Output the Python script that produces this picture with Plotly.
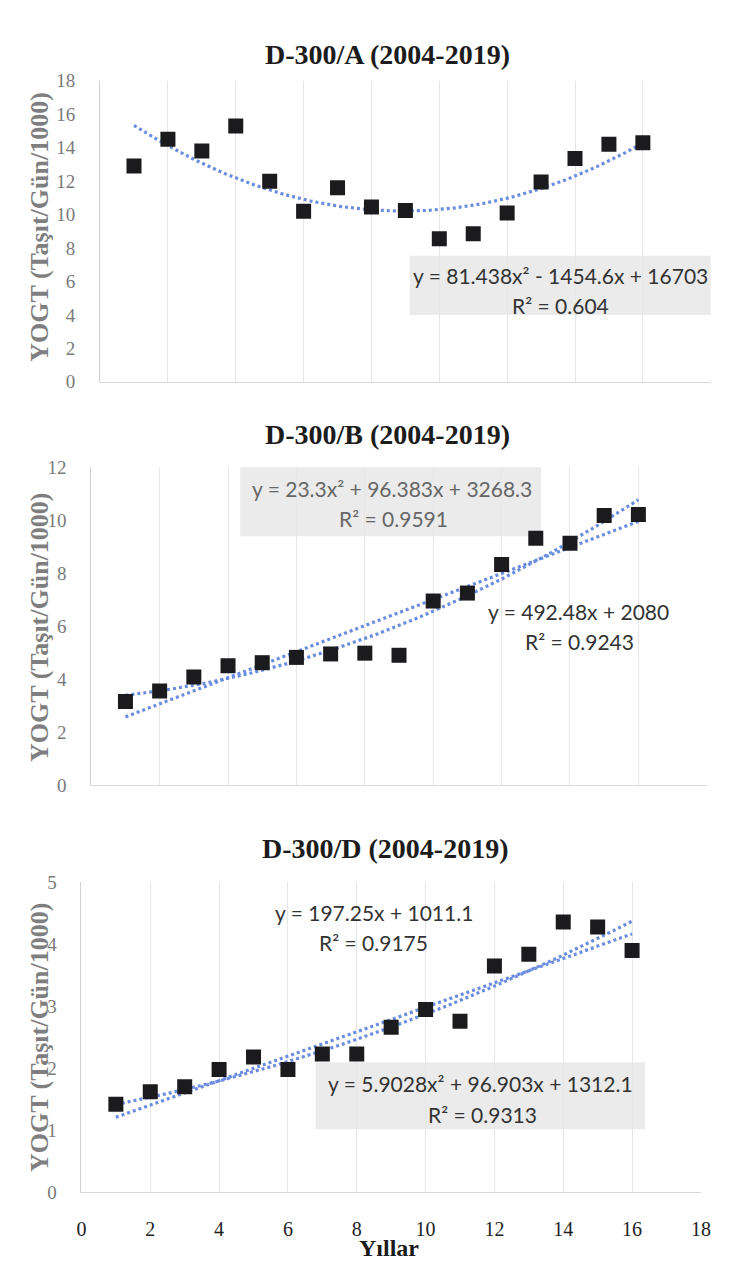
import numpy as np
import plotly.graph_objects as go

# ---- data -------------------------------------------------------------
years = list(range(1, 17))

yogt_a = [12.9, 14.5, 13.8, 15.3, 12.0, 10.2, 11.6, 10.45, 10.25, 8.55, 8.85, 10.1, 11.95, 13.35, 14.2, 14.3]
yogt_b = [3.15, 3.55, 4.08, 4.5, 4.62, 4.82, 4.95, 4.98, 4.9, 6.95, 7.25, 8.33, 9.32, 9.13, 10.18, 10.22]
yogt_d = [1.42, 1.62, 1.7, 1.98, 2.18, 1.98, 2.23, 2.23, 2.66, 2.95, 2.76, 3.65, 3.84, 4.36, 4.28, 3.9]

# trendline coefficients (vehicles/day), highest power first
trend_a_quad = [81.438, -1454.6, 16703]
trend_b_quad = [23.3, 96.383, 3268.3]
trend_b_lin = [492.48, 2080]
trend_d_lin = [197.25, 1011.1]
trend_d_quad = [5.9028, 96.903, 1312.1]

titles = ["D-300/A (2004-2019)", "D-300/B (2004-2019)", "D-300/D (2004-2019)"]
y_title = "YOGT (Taşıt/Gün/1000)"
x_title = "Yıllar"

# ---- page geometry (pixels) --------------------------------------------
W, H = 755, 1272


def px(x):
    return x / W


def py(y):
    return 1 - y / H


# plot areas: (left, right, bottom, top) in pixels
areas = {
    "a": (97, 720, 378, 72),
    "b": (88, 716, 788, 465),
    "d": (78, 710, 1202, 887),
}

MARKER = "#1b1b1d"
TREND = "#6b8de0"
GRID = "#e6e6e6"
SERIF = "Liberation Serif, Times New Roman, serif"
SANS = "Liberation Sans Narrow, Lato, sans-serif"

fig = go.Figure()

xs = np.linspace(1, 16, 200)


def trend(coefs):
    return np.polyval(coefs, xs) / 1000.0


def add_panel(idx, yvals, trends):
    xa = "x" if idx == 1 else f"x{idx}"
    ya = "y" if idx == 1 else f"y{idx}"
    for coefs in trends:
        fig.add_trace(go.Scatter(
            x=xs, y=trend(coefs), mode="lines", xaxis=xa, yaxis=ya,
            line=dict(color=TREND, width=3.2, dash="3px,3px"),
            hoverinfo="skip", showlegend=False))
    fig.add_trace(go.Scatter(
        x=years, y=yvals, mode="markers", xaxis=xa, yaxis=ya,
        marker=dict(symbol="square", size=15, color=MARKER, line=dict(width=0)),
        showlegend=False))


add_panel(1, yogt_a, [trend_a_quad])
add_panel(2, yogt_b, [trend_b_quad, trend_b_lin])
add_panel(3, yogt_d, [trend_d_lin, trend_d_quad])

axis_common = dict(range=[0, 18], dtick=2, tick0=0, showgrid=True, gridcolor=GRID,
                   gridwidth=1, zeroline=False, showline=True, linecolor="#d9d9d9",
                   linewidth=1, ticks="")
ytick_font = dict(family=SERIF, size=19, color="#7a7a7a")

for key, idx, yr, dy, showx in [("a", 1, 18, 2, False), ("b", 2, 12, 2, False), ("d", 3, 5, 1, True)]:
    l, r, b, t = areas[key]
    sfx = "" if idx == 1 else str(idx)
    fig.layout["xaxis" + sfx] = dict(
        axis_common, domain=[px(l), px(r)], anchor="y" + sfx,
        showticklabels=showx,
        tickfont=dict(family=SERIF, size=20, color="#1e1e1e"),
        ticklabelstandoff=19)
    fig.layout["yaxis" + sfx] = dict(
        domain=[py(b), py(t)], anchor="x" + sfx, range=[0, yr], dtick=dy, tick0=0,
        showgrid=False, zeroline=False, showline=True, linecolor="#d0d0d0",
        linewidth=1, ticks="", tickfont=ytick_font, ticklabelstandoff=20)

annotations = []

# panel titles
for (cx, cy), text in zip([(390, 45), (390, 432), (388, 853)], titles):
    annotations.append(dict(x=px(cx), y=py(cy), xref="paper", yref="paper",
                            text=f"<b>{text}</b>", showarrow=False,
                            xanchor="center", yanchor="middle",
                            font=dict(family=SERIF, size=28, color="#1c1c1c")))

# vertical axis titles
for cy in [221, 628, 1045]:
    annotations.append(dict(x=px(35), y=py(cy), xref="paper", yref="paper",
                            text=f"<b>{y_title}</b>", showarrow=False, textangle=-90,
                            xanchor="center", yanchor="middle",
                            font=dict(family=SERIF, size=26, color="#7f7f7f")))

# horizontal axis title
annotations.append(dict(x=px(392), y=py(1259), xref="paper", yref="paper",
                        text=f"<b>{x_title}</b>", showarrow=False,
                        xanchor="center", yanchor="middle", borderpad=0,
                        font=dict(family=SERIF, size=24, color="#1a1a1a")))

# trendline equation labels: (text, centre x, centre y, colour)
eq_labels = [
    ("y = 81.438x² - 1454.6x + 16703", 567, 270, "#333333"),
    ("R² = 0.604", 567, 300, "#333333"),
    ("y = 23.3x² + 96.383x + 3268.3", 395, 487, "#666666"),
    ("R² = 0.9591", 396, 517, "#666666"),
    ("y = 492.48x + 2080", 585, 612, "#333333"),
    ("R² = 0.9243", 586, 642, "#333333"),
    ("y = 197.25x + 1011.1", 376, 918, "#333333"),
    ("R² = 0.9175", 376, 948, "#333333"),
    ("y = 5.9028x² + 96.903x + 1312.1", 485, 1092, "#333333"),
    ("R² = 0.9313", 487, 1123, "#333333"),
]
for text, cx, cy, col in eq_labels:
    annotations.append(dict(x=px(cx), y=py(cy), xref="paper", yref="paper",
                            text=text, showarrow=False, xanchor="center", yanchor="middle",
                            font=dict(family=SANS, size=21, color=col)))

# shaded boxes behind the quadratic equations: (x0, x1, y0, y1)
boxes = [(413, 720, 250, 310), (240, 547, 465, 535), (317, 653, 1070, 1138)]
shapes = []
for x0, x1, y0, y1 in boxes:
    shapes.append(dict(type="rect", xref="paper", yref="paper",
                       x0=px(x0), x1=px(x1), y0=py(y1), y1=py(y0),
                       fillcolor="#ebebeb", line=dict(width=0), layer="between"))

fig.update_layout(
    width=W, height=H, margin=dict(l=0, r=0, t=0, b=0),
    paper_bgcolor="white", plot_bgcolor="white",
    annotations=annotations, shapes=shapes, showlegend=False,
)

fig.write_html("out.html")
